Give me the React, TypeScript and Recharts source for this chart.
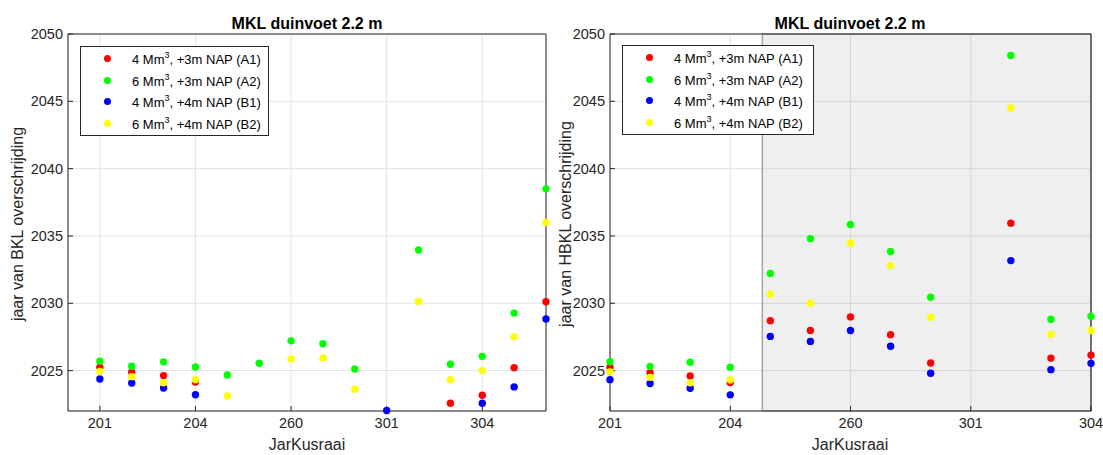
import React from 'react';
import { ScatterChart, Scatter, XAxis, YAxis, CartesianGrid, ReferenceArea } from 'recharts';

const FONT = '"Liberation Sans", Arial, Helvetica, sans-serif';
const TEXT = '#262626';

// Tick labels (shown every third category)
const tickPositions = [1, 4, 7, 10, 13];
const tickLabels = ['201', '204', '260', '301', '304'];
const yTicks = [2025, 2030, 2035, 2040, 2045, 2050];

// Series names/colors
const seriesNames = ['A1', 'A2', 'B1', 'B2'];
const seriesMm = ['4', '6', '4', '6'];
const seriesNap = ['+3m', '+3m', '+4m', '+4m'];
const seriesColors = ['#ff0000', '#00ff00', '#0000ff', '#ffff00'];

// Left panel: BKL (15 categories)
const leftA1 = [2025.25, 2024.88, 2024.63, 2024.15, null, null, null, null, null, null, null, 2022.58, 2023.17, 2025.22, 2030.11];
const leftA2 = [2025.70, 2025.32, 2025.65, 2025.27, 2024.68, 2025.55, 2027.21, 2027.0, 2025.12, null, 2033.96, 2025.47, 2026.06, 2029.27, 2038.5];
const leftB1 = [2024.38, 2024.08, 2023.71, 2023.21, null, null, null, null, null, 2022.04, null, null, 2022.58, 2023.79, 2028.83];
const leftB2 = [2024.93, 2024.55, 2024.10, 2024.33, 2023.11, null, 2025.87, 2025.94, 2023.62, null, 2030.14, 2024.33, 2025.0, 2027.52, 2036.0];

// Right panel: HBKL (13 categories)
const rightA1 = [2025.25, 2024.85, 2024.6, 2024.11, 2028.7, 2027.98, 2028.99, 2027.67, 2025.56, null, 2035.95, 2025.93, 2026.15];
const rightA2 = [2025.66, 2025.3, 2025.62, 2025.25, 2032.22, 2034.8, 2035.85, 2033.85, 2030.45, null, 2048.4, 2028.81, 2029.03];
const rightB1 = [2024.33, 2024.04, 2023.69, 2023.2, 2027.54, 2027.17, 2027.98, 2026.81, 2024.8, null, 2033.17, 2025.07, 2025.54];
const rightB2 = [2024.9, 2024.5, 2024.09, 2024.31, 2030.67, 2030.0, 2034.46, 2032.8, 2028.96, null, 2044.5, 2027.69, 2027.98];

const shadeStart = 4.8;

const toPoints = (arr: (number | null)[]) =>
  arr.map((v, i) => ({ x: i + 1, y: v })).filter((p) => p.y !== null) as { x: number; y: number }[];

const dot = (color: string) => (props: any) =>
  <circle cx={props.cx} cy={props.cy} r={3.7} fill={color} stroke="none" />;

const fmtX = (v: number) => {
  const i = tickPositions.indexOf(v);
  return i >= 0 ? tickLabels[i] : '';
};

const tickStyle = { fill: TEXT, fontSize: 14.5, fontFamily: FONT };
const tickLineStyle = { stroke: '#262626', strokeWidth: 1 };

type PanelProps = {
  left: number;
  width: number;
  marginRight: number;
  xDomain: [number, number];
  series: (number | null)[][];
  shade?: [number, number];
};

function Panel({ left, width, marginRight, xDomain, series, shade }: PanelProps) {
  return (
    <div style={{ position: 'absolute', left, top: 0 }}>
      <ScatterChart width={width} height={455} margin={{ top: 34, right: marginRight, bottom: 0, left: 0 }}>
        {shade && (
          <ReferenceArea x1={shade[0]} x2={shade[1]} y1={2022} y2={2050} fill="#7f7f7f" fillOpacity={0.12} stroke="#a6a6a6" strokeWidth={1.5} ifOverflow="visible" />
        )}
        <CartesianGrid stroke="#e3e3e3" strokeWidth={1} />
        <XAxis
          type="number"
          dataKey="x"
          domain={xDomain}
          ticks={tickPositions}
          tickFormatter={fmtX}
          height={44}
          axisLine={false}
          tickLine={tickLineStyle}
          tickSize={-5}
          tickMargin={12}
          tick={tickStyle}
          interval={0}
        />
        <XAxis
          xAxisId="top"
          orientation="top"
          type="number"
          domain={xDomain}
          ticks={tickPositions}
          height={0}
          axisLine={false}
          tickLine={tickLineStyle}
          tickSize={-5}
          tick={false}
          interval={0}
        />
        <YAxis
          type="number"
          dataKey="y"
          domain={[2022, 2050]}
          ticks={yTicks}
          width={68}
          axisLine={false}
          tickLine={tickLineStyle}
          tickSize={-5}
          tickMargin={10}
          tick={tickStyle}
          interval={0}
        />
        <YAxis
          yAxisId="right"
          orientation="right"
          type="number"
          domain={[2022, 2050]}
          ticks={yTicks}
          width={0}
          axisLine={false}
          tickLine={tickLineStyle}
          tickSize={-5}
          tick={false}
          interval={0}
        />
        <ReferenceArea x1={xDomain[0]} x2={xDomain[1]} y1={2022} y2={2050} fill="none" stroke="#262626" strokeWidth={1} ifOverflow="visible" />
        {series.map((s, k) => (
          <Scatter key={seriesNames[k]} data={toPoints(s)} fill={seriesColors[k]} shape={dot(seriesColors[k])} isAnimationActive={false} />
        ))}
      </ScatterChart>
    </div>
  );
}

function LegendBox({ left, top, width, height }: { left: number; top: number; width: number; height: number }) {
  return (
    <div
      style={{
        position: 'absolute', left, top, width, height, boxSizing: 'border-box',
        border: '1px solid #262626', background: '#fff', fontFamily: FONT, fontSize: 13, color: '#000',
        paddingTop: 1,
      }}
    >
      {seriesNames.map((n, k) => (
        <div key={n} style={{ position: 'relative', height: 21.5, lineHeight: '21.5px', whiteSpace: 'nowrap' }}>
          <span style={{ position: 'absolute', left: 22.5, top: 7.2, width: 7, height: 7, borderRadius: '50%', background: seriesColors[k] }} />
          <span style={{ position: 'absolute', left: 51, top: 1 }}>
            {seriesMm[k]} Mm<sup style={{ fontSize: 9, verticalAlign: 'baseline', position: 'relative', top: -6 }}>3</sup>, {seriesNap[k]} NAP ({n})
          </span>
        </div>
      ))}
    </div>
  );
}

const titleStyle = (cx: number): React.CSSProperties => ({
  position: 'absolute', left: cx - 150, width: 300, top: 14, textAlign: 'center',
  fontFamily: FONT, fontWeight: 'bold', fontSize: 16, lineHeight: '20px', color: '#000',
});
const xLabelStyle = (cx: number): React.CSSProperties => ({
  position: 'absolute', left: cx - 100, width: 200, top: 435, textAlign: 'center',
  fontFamily: FONT, fontSize: 16, lineHeight: '20px', color: TEXT,
});
const yLabelStyle = (cx: number, cy: number): React.CSSProperties => ({
  position: 'absolute', left: cx - 150, width: 300, top: cy - 10, textAlign: 'center',
  fontFamily: FONT, fontSize: 16, lineHeight: '20px', color: TEXT, transform: 'rotate(-90deg)',
});

export default function App() {
  return (
    <div style={{ position: 'absolute', left: 0, top: 0, width: 1103, height: 455, background: '#fff', overflow: 'hidden' }}>
      <Panel left={0} width={560} marginRight={14} xDomain={[0, 15]} series={[leftA1, leftA2, leftB1, leftB2]} />
      <Panel left={542} width={561} marginRight={12} xDomain={[1, 13]} series={[rightA1, rightA2, rightB1, rightB2]} shade={[shadeStart, 13]} />
      <div style={titleStyle(307)}>MKL duinvoet 2.2 m</div>
      <div style={titleStyle(850)}>MKL duinvoet 2.2 m</div>
      <div style={xLabelStyle(307)}>JarKusraai</div>
      <div style={xLabelStyle(850)}>JarKusraai</div>
      <div style={yLabelStyle(18, 224)}>jaar van BKL overschrijding</div>
      <div style={yLabelStyle(566, 224)}>jaar van HBKL overschrijding</div>
      <LegendBox left={80} top={46} width={189} height={90} />
      <LegendBox left={622} top={45} width={192} height={90} />
    </div>
  );
}
